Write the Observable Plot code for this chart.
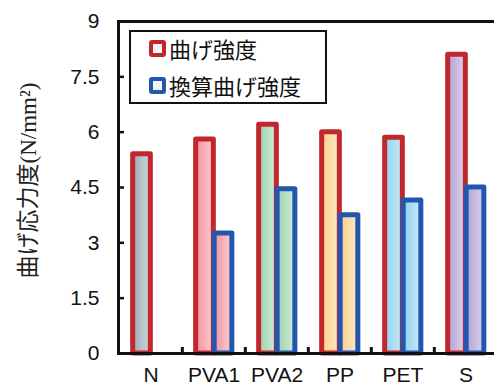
<!DOCTYPE html>
<html>
<head>
<meta charset="utf-8">
<script src="https://cdn.jsdelivr.net/npm/d3@7"></script>
<script src="https://cdn.jsdelivr.net/npm/@observablehq/plot@0.6"></script>
<style>
  html, body { margin: 0; padding: 0; background: #fff; overflow: hidden; }
  #chart { position: relative; width: 494px; height: 387px; }
  .legend {
    position: absolute; left: 129px; top: 30px; width: 194px; height: 70px;
    border: 2px solid #111; background: #fff;
    font-family: "Noto Sans CJK JP", sans-serif; font-size: 22px; color: #111;
  }
  .legend .item { position: absolute; left: 18px; display: flex; align-items: center; line-height: 1; }
  .legend .swatch {
    width: 9px; height: 9px; border-radius: 3px; margin-right: 3px;
    background: #f4f4f4; border-style: solid; border-width: 4px;
  }
</style>
</head>
<body>
<div id="chart"></div>
<script>
// Bending strength by fibre type (N/mm²)
const categories = ["N", "PVA1", "PVA2", "PP", "PET", "S"];
const bendingStrength = [5.4, 5.8, 6.2, 6.0, 5.85, 8.1];        // 曲げ強度
const convertedStrength = [null, 3.25, 4.45, 3.75, 4.15, 4.5];  // 換算曲げ強度
const seriesNames = ["曲げ強度", "換算曲げ強度"];
const yTicks = [0, 1.5, 3, 4.5, 6, 7.5, 9];
const yTickLabels = ["0", "1.5", "3", "4.5", "6", "7.5", "9"];
const yTitle = "曲げ応力度(N/mm²)";

// Per-category bar fills (left → right gradient)
const fillStart = ["#9eabb4", "#f3949d", "#98d3ab", "#fbcf8c", "#8ad1ef", "#b4a4d4"];
const fillEnd   = ["#cdd6dc", "#fbcdd1", "#d3ecdd", "#fde8c4", "#cdebf8", "#dbd2ea"];
const seriesStroke = ["#c1272d", "#2356ae"];

const W = 494, H = 387;
const margin = {top: 21, right: -4, bottom: 34, left: 118};
const plotW = W - margin.left - margin.right;
const plotH = H - margin.top - margin.bottom;
const step = plotW / categories.length;
const barW = 18;
const inset = (step - barW) / 2;

const gradId = (i) => `fill-${i}`;
const redRows = categories.map((c, i) => ({category: c, value: bendingStrength[i], fill: `url(#${gradId(i)})`}));
const blueRows = categories
  .map((c, i) => ({category: c, value: convertedStrength[i], fill: `url(#${gradId(i)})`}))
  .filter(d => d.value != null);

const barStyle = {
  x: "category", y: "value", fill: "fill",
  strokeWidth: 5, strokeLinejoin: "round",
  insetLeft: inset, insetRight: inset
};

const svg = Plot.plot({
  width: W, height: H,
  marginTop: margin.top, marginRight: margin.right,
  marginBottom: margin.bottom, marginLeft: margin.left,
  style: {fontFamily: "'Liberation Sans', Arial, sans-serif", fontSize: "21px", color: "#111", background: "transparent"},
  x: {domain: categories, padding: 0, tickSize: 0, tickPadding: 14, label: null},
  y: {domain: [0, 9], ticks: yTicks, tickFormat: (d) => yTickLabels[yTicks.indexOf(d)], tickSize: 0, tickPadding: 19, label: null},
  color: {type: "identity"},
  marks: [
    Plot.barY(redRows, {...barStyle, stroke: seriesStroke[0], dx: -9}),
    Plot.barY(blueRows, {...barStyle, stroke: seriesStroke[1], dx: 9.5}),
    // inward ticks on the value axis
    Plot.ruleY(yTicks, {y: (d) => d, stroke: "#111", strokeWidth: 2.5, insetRight: plotW - 6}),
    // inward ticks at category boundaries
    Plot.ruleX(categories.slice(1), {x: (d) => d, dx: -step / 2, stroke: "#111", strokeWidth: 3, insetTop: plotH - 6}),
    Plot.frame({stroke: "#111", strokeWidth: 3}),
    Plot.text([yTitle], {
      frameAnchor: "left", textAnchor: "middle", rotate: -90, dx: -90, dy: -7,
      fontFamily: "'Liberation Serif', 'Noto Sans CJK JP', serif", fontSize: 23, fill: "#222"
    })
  ]
});

// gradient definitions for the bar fills
const defs = d3.select(svg).insert("defs", ":first-child");
categories.forEach((c, i) => {
  const g = defs.append("linearGradient").attr("id", gradId(i))
    .attr("x1", "0").attr("x2", "1").attr("y1", "0").attr("y2", "0");
  g.append("stop").attr("offset", "0").attr("stop-color", fillStart[i]);
  g.append("stop").attr("offset", "1").attr("stop-color", fillEnd[i]);
});

const chart = document.getElementById("chart");
chart.appendChild(svg);

// legend box inside the plot area
const legend = document.createElement("div");
legend.className = "legend";
seriesNames.forEach((name, i) => {
  const item = document.createElement("div");
  item.className = "item";
  item.style.top = (i === 0 ? 5 : 42) + "px";
  const sw = document.createElement("span");
  sw.className = "swatch";
  sw.style.borderColor = seriesStroke[i];
  const label = document.createElement("span");
  label.textContent = name;
  item.append(sw, label);
  legend.appendChild(item);
});
chart.appendChild(legend);
</script>
</body>
</html>
